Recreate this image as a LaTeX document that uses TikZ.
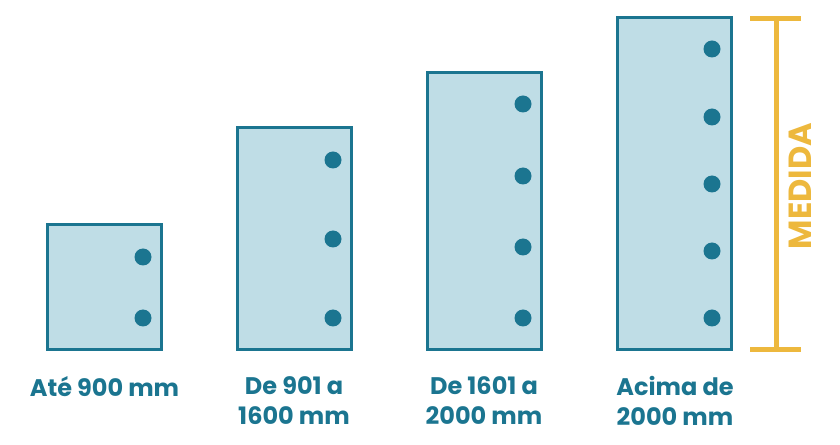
\documentclass[tikz,border=0pt]{standalone}
\usepackage{fontspec}
\setmainfont{Poppins}
\usepackage{xcolor}
\usetikzlibrary{positioning}
\definecolor{panelfill}{HTML}{BFDDE6}
\definecolor{paneledge}{HTML}{1B7590}
\definecolor{gold}{HTML}{EDB83D}

\begin{document}
\begin{tikzpicture}[x=0.75pt, y=-0.75pt,
  panel/.style={draw=paneledge, line width=2.25pt, fill=panelfill, minimum width=85.5pt, inner sep=0pt},
  hole/.style={circle, fill=paneledge, minimum size=12.75pt, inner sep=0pt},
  lbl/.style={text=paneledge, font=\fontsize{18}{22.5}\selectfont\bfseries, align=center, anchor=north, inner sep=0pt},
  bar/.style={draw=gold, line width=3.75pt}]
  \useasboundingbox (0,0) rectangle (840,445);
  % panels
  \node[panel, minimum height=93.75pt] (p1) at (104.5,287) {};
  \node[panel, minimum height=166.5pt] (p2) at (294,238.5) {};
  \node[panel, minimum height=207.75pt] (p3) at (484,211) {};
  \node[panel, minimum height=249pt] (p4) at (674,183.5) {};
  % holes
  \node[hole] (h11) at (143,257) {}; \node[hole] (h12) at (143,318) {};
  \node[hole] (h21) at (333,160) {}; \node[hole] (h22) at (333,239) {}; \node[hole] (h23) at (333,318) {};
  \node[hole] (h31) at (523,104) {}; \node[hole] (h32) at (523,176) {};
  \node[hole] (h33) at (523,247) {}; \node[hole] (h34) at (523,318) {};
  \node[hole] (h41) at (712,49) {}; \node[hole] (h42) at (712,117) {}; \node[hole] (h43) at (712,184) {};
  \node[hole] (h44) at (712,251) {}; \node[hole] (h45) at (712,318) {};
  % labels
  \node[lbl] (l1) at (104.5,376) {Até 900 mm};
  \node[lbl] (l2) at (294,376) {De 901 a\\1600 mm};
  \node[lbl] (l3) at (484,376) {De 1601 a\\2000 mm};
  \node[lbl] (l4) at (675,376) {Acima de\\2000 mm};
  % measure
  \coordinate (mtop) at (776,19);
  \coordinate (mbot) at (776,350);
  \draw[bar] (mtop) -- (mbot);
  \draw[bar] ([xshift=-19.5pt]mtop) -- ([xshift=18.75pt]mtop);
  \draw[bar] ([xshift=-19.5pt]mbot) -- ([xshift=18.75pt]mbot);
  \node[text=gold, font=\fontsize{24}{24}\selectfont\bfseries, rotate=90, inner sep=0pt] (med) at (800,186) {MEDIDA};
\end{tikzpicture}
\end{document}
